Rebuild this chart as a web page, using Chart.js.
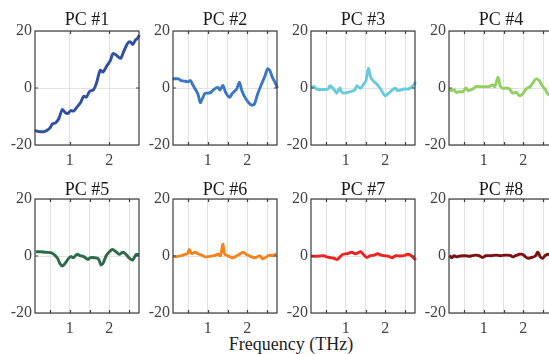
<!DOCTYPE html>
<html>
<head>
<meta charset="utf-8">
<script src="https://cdn.jsdelivr.net/npm/chart.js@4/dist/chart.umd.min.js"></script>
<style>
html, body { margin:0; padding:0; background:#fff; overflow:hidden; }
#wrap { position:relative; width:549px; height:354px; overflow:hidden; }
#wrap canvas { position:absolute; }
#xlabel { position:absolute; left:0; width:582px; top:334px; line-height:20px; text-align:center;
  font-family:"Liberation Serif", serif; font-size:18px; color:#222; }
</style>
</head>
<body>
<div id="wrap">
  <div id="xlabel">Frequency (THz)</div>
</div>
<script>
// ===========================
// Data
// ===========================
const titles = ["PC #1","PC #2","PC #3","PC #4","PC #5","PC #6","PC #7","PC #8"];
const colors = ["#2e4fa3","#3a77c2","#66cbdc","#8fd05e","#2c6b48","#f5841f","#ee2222","#7b0f12"];
const yTicks = [-20, 0, 20];
const xTicks = [0.5, 1, 1.5, 2, 2.5];

const pc1F = [0.12,0.22,0.35,0.43,0.50,0.56,0.64,0.72,0.81,0.89,0.95,1.03,1.10,1.18,1.27,1.35,1.42,1.50,1.60,1.67,1.77,1.84,1.92,2.03,2.09,2.18,2.28,2.36,2.46,2.53,2.59,2.66,2.71,2.76];
const pc1V = [-14.9,-15.3,-15.3,-14.8,-14,-12.6,-12.2,-10.8,-7.6,-8.7,-8.9,-7.9,-8.1,-6.7,-5.2,-2.9,-3.2,-1.2,-0.6,1.5,6.2,5.6,7.4,9.8,12.1,11.5,10.4,12.7,15.6,16.2,15.3,16.8,17.4,18.6];

const pc2F = [0.11,0.26,0.33,0.43,0.50,0.56,0.61,0.68,0.75,0.81,0.87,0.93,1.02,1.08,1.17,1.25,1.31,1.38,1.45,1.55,1.62,1.73,1.80,1.86,1.94,2.03,2.11,2.18,2.26,2.36,2.45,2.51,2.57,2.63,2.70,2.76];
const pc2V = [3.2,3.2,2.6,2.35,2.2,2.6,1.4,-0.35,-2.1,-5.1,-3.5,-1.9,-1.8,-1.5,-0.35,0.2,-0.7,0.9,-1.5,-3.3,-1.9,-0.35,2.0,-0.9,-3.3,-5.1,-6.0,-5.6,-2.1,1.4,4.4,6.7,6.1,3.8,2.0,0];

const pc3F = [0.12,0.20,0.26,0.42,0.55,0.60,0.69,0.75,0.77,0.85,0.90,0.97,1.06,1.14,1.23,1.28,1.37,1.44,1.51,1.57,1.63,1.69,1.78,1.88,1.99,2.08,2.16,2.25,2.31,2.39,2.47,2.58,2.69,2.77];
const pc3V = [0.2,0.5,-0.35,-0.5,-0.35,0.8,-0.35,-1.5,-1.8,0,-1.5,-1.8,-1.5,-1.2,-0.7,0.8,-0.1,1.1,2.6,6.9,3.8,2.6,1.4,-0.35,-2.7,-1.9,-0.9,-0.1,-0.9,-0.7,-0.35,-0.35,0.6,2.2];

const pc4F = [0.13,0.19,0.25,0.30,0.38,0.47,0.55,0.61,0.72,0.80,0.90,1.03,1.13,1.22,1.28,1.36,1.42,1.48,1.57,1.65,1.73,1.82,1.90,1.98,2.07,2.17,2.25,2.32,2.40,2.48,2.57,2.62,2.70];
const pc4V = [-0.35,-0.9,-0.6,-1.5,-1.3,-1.3,0,-0.9,-0.35,0.5,0.5,0.5,0.5,1.1,0.5,3.8,0.6,-0.1,0,-0.35,-1.8,-1.5,-2.7,-2.1,-0.35,0.5,2.0,3.2,2.6,0.8,-0.9,-2.1,-2.6];

const pc5F = [0.14,0.26,0.39,0.52,0.60,0.69,0.75,0.81,0.88,0.96,1.03,1.09,1.18,1.26,1.35,1.45,1.52,1.62,1.72,1.79,1.84,1.92,2.00,2.08,2.17,2.25,2.34,2.42,2.51,2.59,2.68,2.75];
const pc5V = [1.5,1.5,1.3,1.2,0.6,-0.8,-2.6,-3.5,-2.6,-1.0,-0.2,-0.6,0.6,0.1,-0.2,-1.2,-0.6,-0.6,-1.0,-3.1,-2.6,0.1,1.5,2.3,1.5,0.6,1.3,0.6,-0.8,-1.4,0.6,0.4];

const pc6F = [0.12,0.21,0.33,0.42,0.49,0.53,0.59,0.68,0.76,0.85,0.93,1.02,1.15,1.26,1.32,1.38,1.43,1.51,1.62,1.70,1.80,1.89,1.97,2.09,2.20,2.26,2.32,2.38,2.45,2.56,2.64,2.73];
const pc6V = [-0.2,-0.2,0.1,0.6,0.9,2.3,0.9,1.3,0.7,0.3,-0.3,-0.2,0.1,0.6,0.1,4.1,0.6,0.1,-0.6,-0.2,0.6,1.3,0.6,-0.2,-0.6,-0.2,0.1,-1.0,-0.6,0.3,0.1,0.8];

const pc7F = [0.12,0.22,0.35,0.44,0.51,0.62,0.70,0.79,0.86,0.93,1.03,1.15,1.23,1.29,1.38,1.44,1.53,1.62,1.72,1.80,1.89,1.97,2.09,2.17,2.26,2.38,2.47,2.56,2.64,2.70,2.77];
const pc7V = [0,-0.1,0,0.1,-0.3,-0.6,-0.8,-1.2,-0.2,0.6,0.8,1.3,0.8,1.0,1.5,0.6,-0.5,0.1,0.3,0.8,0.3,0.1,-0.1,-0.6,0.1,0,0.1,0.6,0.3,-0.5,-1.4];

const pc8F = [0.13,0.19,0.25,0.31,0.40,0.53,0.65,0.78,0.88,0.97,1.05,1.19,1.31,1.42,1.54,1.67,1.73,1.80,1.90,1.98,2.05,2.12,2.22,2.31,2.36,2.39,2.43,2.49,2.56,2.66,2.75];
const pc8V = [0.1,-0.6,0.1,-0.3,0,0.1,-0.1,0.3,0.1,-0.5,0.1,0.1,0.3,0.1,0.3,0.2,-0.3,0.1,0.6,0.6,-0.2,-0.8,-0.5,0.1,1.3,0.9,-0.3,-0.8,0.3,0.6,0.2];

const freqs = [pc1F,pc2F,pc3F,pc4F,pc5F,pc6F,pc7F,pc8F];
const values = [pc1V,pc2V,pc3V,pc4V,pc5V,pc6V,pc7V,pc8V];

const serif = "'Liberation Serif', 'Times New Roman', serif";

// ===========================
// Panel box, inward ticks, title over the plot
// ===========================
const boxPlugin = {
  id: "box",
  afterDraw(chart, args, opts) {
    const { ctx, chartArea: a, scales: { x, y } } = chart;
    ctx.save();
    ctx.strokeStyle = "#3c3c3c";
    ctx.lineWidth = 1.2;
    ctx.strokeRect(a.left, a.top, a.right - a.left, a.bottom - a.top);
    ctx.beginPath();
    x.ticks.forEach(t => {
      const px = Math.round(x.getPixelForValue(t.value)) + 0.5;
      ctx.moveTo(px, a.top); ctx.lineTo(px, a.top + 3);
      ctx.moveTo(px, a.bottom); ctx.lineTo(px, a.bottom - 3);
    });
    const py = y.getPixelForValue(0);
    ctx.moveTo(a.left, py); ctx.lineTo(a.left + 3, py);
    ctx.moveTo(a.right, py); ctx.lineTo(a.right - 3, py);
    ctx.stroke();

    ctx.fillStyle = "#1a1a1a";
    ctx.font = "18px " + serif;
    ctx.textAlign = "center";
    ctx.textBaseline = "alphabetic";
    ctx.fillText(opts.text, (a.left + a.right) / 2, a.top - opts.gap);
    ctx.restore();
  }
};

// ===========================
// Build the 8 panels
// ===========================
const wrap = document.getElementById("wrap");

for (let i = 0; i < 8; i++) {
  const col = i % 4, row = Math.floor(i / 4);
  const plotLeft = 35 + 138 * col;
  const plotTop = row === 0 ? 31 : 199;
  const cv = document.createElement("canvas");
  cv.width = 141; cv.height = 169;
  cv.style.left = (plotLeft - 35) + "px";
  cv.style.top = (plotTop - 31) + "px";
  wrap.appendChild(cv);

  const gridTicks = i === 0 ? [1, 2] : xTicks;
  const pts = freqs[i].map((f, k) => ({ x: f, y: values[i][k] }));

  new Chart(cv, {
    type: "line",
    data: { datasets: [{ data: pts, borderColor: colors[i], borderWidth: 2.9,
      pointRadius: 0, tension: 0.3, fill: false, clip: 2 }] },
    options: {
      responsive: false, animation: false, devicePixelRatio: 1,
      layout: { padding: { left: 0, right: 2, top: 31, bottom: 0 } },
      plugins: {
        legend: { display: false }, tooltip: { enabled: false },
        title: { display: false },
        box: { text: titles[i], gap: row === 0 ? 6 : 4 }
      },
      scales: {
        x: {
          type: "linear", min: 0.12, max: 2.75,
          afterBuildTicks: s => { s.ticks = gridTicks.map(v => ({ value: v })); },
          afterFit: s => { s.height = 24; },
          grid: { color: "#e2e2e2", lineWidth: 1, drawTicks: false },
          border: { display: false },
          ticks: { autoSkip: false, maxRotation: 0, padding: 6, color: "#444",
            font: { family: serif, size: 16 },
            callback: v => Number.isInteger(v) ? String(v) : "" }
        },
        y: {
          min: -20, max: 20,
          afterBuildTicks: s => { s.ticks = yTicks.map(v => ({ value: v })); },
          afterFit: s => { s.width = 35; },
          grid: { color: "#e2e2e2", lineWidth: 1, drawTicks: false },
          border: { display: false },
          ticks: { padding: 3, color: "#444", font: { family: serif, size: 16 } }
        }
      }
    },
    plugins: [boxPlugin]
  });
}
</script>
</body>
</html>
